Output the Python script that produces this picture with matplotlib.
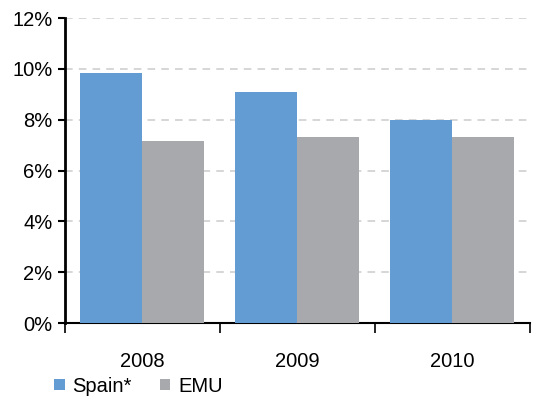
import numpy as np
import matplotlib.pyplot as plt
from matplotlib.ticker import FuncFormatter

plt.rcParams["font.family"] = ["Liberation Sans", "DejaVu Sans"]

years = ["2008", "2009", "2010"]
spain = [9.84, 9.09, 7.99]
emu = [7.17, 7.32, 7.32]

c_spain = "#639cd2"
c_emu = "#a8a9ac"

fig = plt.figure(figsize=(5.43, 4.03), dpi=100)
ax = fig.add_axes([0.1197, 0.1985, 0.8563, 0.7568])

x = np.arange(len(years))
w = 0.4
ax.bar(x - w/2, spain, w, color=c_spain, label="Spain*", zorder=3)
ax.bar(x + w/2, emu, w, color=c_emu, label="EMU", zorder=3)

ax.set_xlim(-0.5, 2.5)
ax.set_ylim(0, 12)
ax.set_yticks(range(0, 13, 2))
ax.yaxis.set_major_formatter(FuncFormatter(lambda v, p: "%d%%" % v))
ax.set_xticks(x)
ax.set_xticklabels(years)
ax.set_xticks([-0.5, 0.5, 1.5, 2.5], minor=True)
ax.tick_params(axis="x", which="major", length=0, pad=21, labelsize=14.5)
ax.tick_params(axis="x", which="minor", length=7, width=1.2, direction="out")
ax.tick_params(axis="y", length=5, width=1.5, labelsize=14.5, pad=4)

ax.grid(axis="y", color="#cccccc", linestyle=(0, (5, 4)), linewidth=1.1, zorder=0)
for s in ["top", "right"]:
    ax.spines[s].set_visible(False)
ax.spines["left"].set_linewidth(2)
ax.spines["bottom"].set_linewidth(1.5)

ax.legend(loc="lower left", bbox_to_anchor=(-0.04, -0.265), ncol=2, frameon=False,
          fontsize=14.5, handlelength=0.5, handleheight=0.5, handletextpad=0.4,
          columnspacing=1.4, borderaxespad=0)

fig.savefig("out.png", dpi=100)
